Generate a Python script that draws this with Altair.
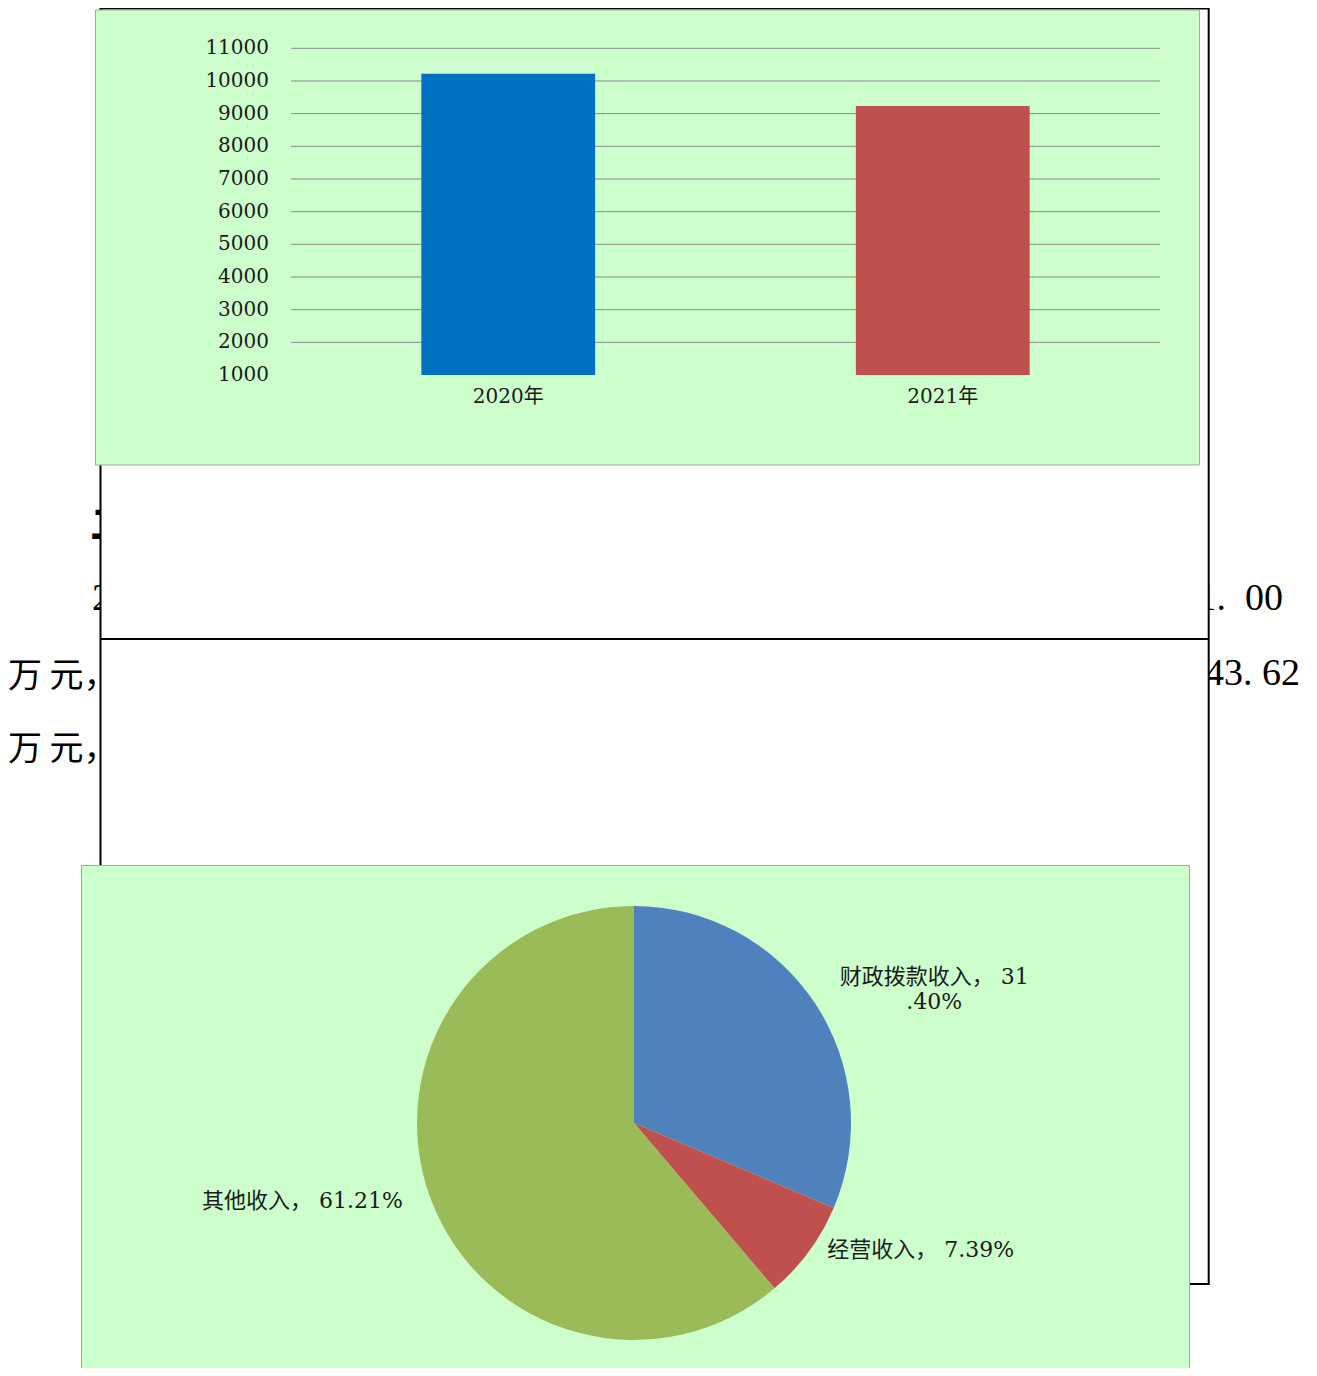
import math
import altair as alt
import pandas as pd

# ---------------- data ----------------
years = ["2020年", "2021年"]
income = [10220, 9235]
axis_ticks = [1000, 2000, 3000, 4000, 5000, 6000, 7000, 8000, 9000, 10000, 11000]
grid_ticks = [2000, 3000, 4000, 5000, 6000, 7000, 8000, 9000, 10000, 11000]

pie_names = ["财政拨款收入", "经营收入", "其他收入"]
pie_pcts = [31.40, 7.39, 61.21]

# text fragments of the surrounding document page
frag_left = ["万 元，", "万 元，"]
frag_right = ["1.\u00a0\u00a000", "43.\u00a062"]

# ---------------- styles ----------------
W, H = 1301, 1360
BAR_COLORS = ["#0070C0", "#C0504D"]
PIE_COLORS = ["#4F81BD", "#C0504D", "#9BBB59"]
PANEL_BG = "#CCFFCC"
PANEL_STROKE = "#A6A6A6"
SERIF = "DejaVu Serif, Noto Sans CJK SC"
CJK = "Noto Sans CJK SC"
DOC_SERIF = "Liberation Serif"

one = alt.Data(values=[{"k": 1}])

bar_df = pd.DataFrame({"year": years, "value": income})
tick_df = pd.DataFrame({"tick": axis_ticks})
grid_df = pd.DataFrame({"tick": grid_ticks})

labels = [f"{n}， {p:.2f}%" for n, p in zip(pie_names, pie_pcts)]
labels[0] = labels[0][:10] + "\n" + labels[0][10:]
pie_df = pd.DataFrame({"idx": [0, 1, 2], "name": pie_names, "pct": pie_pcts, "label": labels})
total = float(sum(pie_pcts))


def rect(x, x2, y, y2, **kw):
    return alt.Chart(one).mark_rect(**kw).encode(
        x=alt.value(x), x2=alt.value(x2), y=alt.value(y), y2=alt.value(y2)
    )


def frag(text, x, y, align, font, size, weight="normal"):
    return alt.Chart(one).mark_text(
        text=text, align=align, baseline="alphabetic", font=font,
        fontSize=size, fontWeight=weight, color="#000000"
    ).encode(x=alt.value(x), y=alt.value(y))


# ---------------- document background ----------------
fragments = [
    frag("二", 82, 530, "left", CJK, 40, "bold"),
    frag("2", 84, 602, "left", DOC_SERIF, 38),
    frag(frag_right[0], 1275, 602, "right", DOC_SERIF, 38),
    frag(frag_left[0], 0, 679, "left", CJK, 34),
    frag(frag_right[1], 1292, 677, "right", DOC_SERIF, 38),
    frag(frag_left[1], 0, 752, "left", CJK, 34),
]

box = rect(92.5, 1200.7, 0.5, 1276, fill="white", stroke="black", strokeWidth=2)
mid_rule = alt.Chart(one).mark_rule(color="black", strokeWidth=2).encode(
    x=alt.value(92.5), x2=alt.value(1200.7), y=alt.value(631)
)

# ---------------- bar chart ----------------
bar_panel = rect(87.5, 1191.5, 2, 457, fill=PANEL_BG, stroke=PANEL_STROKE, strokeWidth=1)

yscale = alt.Scale(domain=[1000, 11000], range=[367, 40.3], zero=False, nice=False)
xscale = alt.Scale(domain=years, range=[283, 1152], paddingInner=0.6, paddingOuter=0.3)

grid = alt.Chart(grid_df).mark_rule(color="#8C8C8C", strokeWidth=1).encode(
    y=alt.Y("tick:Q", scale=yscale, axis=None),
    x=alt.value(283), x2=alt.value(1152),
)

bars = alt.Chart(bar_df).mark_bar().encode(
    x=alt.X("year:N", scale=xscale, axis=None, sort=years),
    y=alt.Y("value:Q", scale=yscale, axis=None),
    y2=alt.datum(1000),
    color=alt.Color("year:N", scale=alt.Scale(domain=years, range=BAR_COLORS), legend=None),
)

ylabels = alt.Chart(tick_df).mark_text(
    align="right", baseline="middle", font=SERIF, fontSize=20, color="#1A1A1A"
).encode(
    y=alt.Y("tick:Q", scale=yscale, axis=None),
    x=alt.value(261),
    text=alt.Text("tick:Q", format="d"),
)

xlabels = alt.Chart(bar_df).mark_text(
    baseline="middle", font=SERIF, fontSize=20, color="#1A1A1A"
).encode(
    x=alt.X("year:N", scale=xscale, axis=None, sort=years),
    y=alt.value(389),
    text="year:N",
)

# ---------------- pie chart ----------------
pie_panel = rect(73.5, 1181.5, 857.5, H + 30, fill=PANEL_BG, stroke=PANEL_STROKE, strokeWidth=1)

CX, CY, R = 626, 1115, 217
theta_scale = alt.Scale(domain=[0, total])

arcs = alt.Chart(pie_df).mark_arc(radius=R).encode(
    theta=alt.Theta("pct:Q", stack=True, scale=theta_scale),
    order=alt.Order("idx:Q"),
    fill=alt.Fill("name:N", scale=alt.Scale(domain=pie_names, range=PIE_COLORS), legend=None),
    x=alt.value(CX), y=alt.value(CY),
)

label_offsets = [(50, 19, "center"), (45, -51, "center"), (-50, -25, "center")]
pie_labels = []
for i, (ddx, ddy, al) in enumerate(label_offsets):
    pie_labels.append(
        alt.Chart(pie_df)
        .transform_window(cum="sum(pct)", sort=[alt.SortField("idx")])
        .transform_calculate(mid="datum.cum - datum.pct / 2")
        .transform_filter(alt.datum.idx == i)
        .mark_text(
            radius=300, dx=ddx, dy=ddy, align=al, baseline="middle",
            lineBreak="\n", lineHeight=25, font=SERIF, fontSize=22, color="#1A1A1A"
        )
        .encode(
            theta=alt.Theta("mid:Q", scale=theta_scale),
            x=alt.value(CX), y=alt.value(CY),
            text="label:N",
        )
    )

chart = alt.layer(
    *fragments, box, mid_rule,
    bar_panel, grid, bars, ylabels, xlabels,
    pie_panel, arcs, *pie_labels,
).properties(
    width=W, height=H, padding=0,
    autosize=alt.AutoSizeParams(type="none"),
    background="white",
).configure_view(stroke=None)

chart.save("out.html", embed_options={"renderer": "svg", "actions": False})
